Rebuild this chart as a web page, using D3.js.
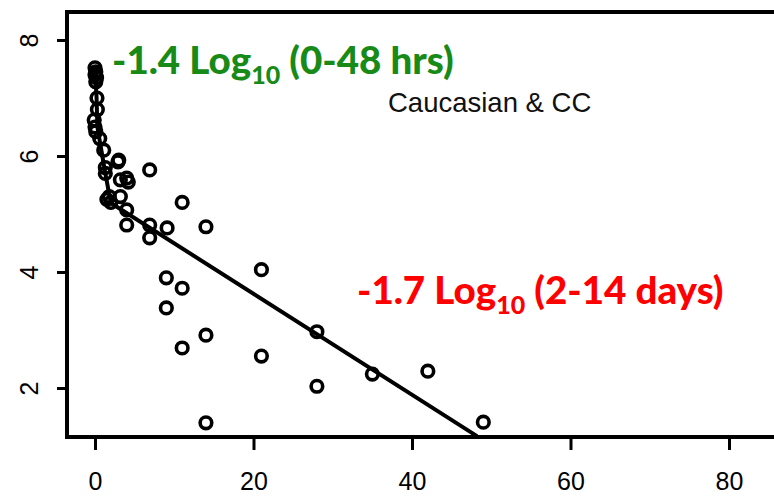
<!DOCTYPE html>
<html>
<head>
<meta charset="utf-8">
<script src="https://cdn.jsdelivr.net/npm/d3@7"></script>
<style>
  body { margin: 0; background: #fff; }
  svg { display: block; }
</style>
</head>
<body>
<div class="chart"></div>
<script>
// Observed viral load (log10) against days since start of treatment
const days = [
  0, 0.1, 0, 0.2, 0.1, 0.25, 0.3, -0.1, 0, 0.1, 0.6, 1.1, 1.3, 1.3,
  1.5, 1.8, 2, 2.9, 3, 3.2, 4.2, 3.2, 4, 4, 6.9, 11,
  4, 6.9, 9.1, 6.9, 14, 21, 9, 11, 9, 14, 11, 28, 21, 28, 14,
  35, 42, 49
];
const logLoad = [
  7.52, 7.45, 7.4, 7.35, 7.28, 7.0, 6.8, 6.62, 6.5, 6.42, 6.3, 6.1, 5.8, 5.7,
  5.25, 5.3, 5.2, 5.9, 5.93, 5.59, 5.55, 5.3, 5.07, 5.62, 5.76, 5.2,
  4.81, 4.81, 4.76, 4.59, 4.78, 4.04, 3.9, 3.72, 3.38, 2.91, 2.69, 2.97, 2.55, 2.03, 1.4,
  2.24, 2.29, 1.41
];

// Fitted biphasic decline
const fitDays = [0, 0.2, 0.3, 0.8, 1.3, 2, 48.2];
const fitLoad = [7.5, 7.0, 6.5, 6.1, 5.7, 5.19, 1.17];

const xTicks = [0, 20, 40, 60, 80];
const yTicks = [2, 4, 6, 8];

const W = 774, H = 498;
const frame = { left: 67, top: 12, right: 800, bottom: 437 };

const svg = d3
  .select(".chart")
  .append("svg")
  .attr("width", W)
  .attr("height", H);

const x = d3.scaleLinear().domain([0, 80]).range([95, 729]);
const y = d3.scaleLinear().domain([2, 8]).range([388, 40]);

// X axis
const xAxis = svg
  .append("g")
  .attr("transform", `translate(0,${frame.bottom})`)
  .call(d3.axisBottom(x).tickValues(xTicks).tickSize(13).tickPadding(22));
xAxis.select(".domain").remove();
xAxis.selectAll("line").attr("stroke", "#000").attr("stroke-width", 3);
xAxis
  .selectAll("text")
  .attr("fill", "#000")
  .style("font-family", "'Liberation Sans', Arial, sans-serif")
  .style("font-size", "25px");

// Y axis, labels rotated as in base R
const yAxis = svg
  .append("g")
  .attr("transform", `translate(${frame.left},0)`)
  .call(d3.axisLeft(y).tickValues(yTicks).tickFormat(d3.format("d")).tickSize(10));
yAxis.select(".domain").remove();
yAxis.selectAll("line").attr("stroke", "#000").attr("stroke-width", 3);
yAxis
  .selectAll("text")
  .attr("fill", "#000")
  .attr("x", null)
  .attr("text-anchor", "middle")
  .attr("transform", "translate(-38,0) rotate(-90)")
  .attr("dy", "0.35em")
  .style("font-family", "'Liberation Sans', Arial, sans-serif")
  .style("font-size", "25px");

// Plot frame
svg
  .append("rect")
  .attr("x", frame.left)
  .attr("y", frame.top)
  .attr("width", frame.right - frame.left)
  .attr("height", frame.bottom - frame.top)
  .attr("fill", "none")
  .attr("stroke", "#000")
  .attr("stroke-width", 4);

// Fit line
const fitPts = fitDays.map((d, i) => [d, fitLoad[i]]);
svg
  .append("path")
  .datum(fitPts)
  .attr("fill", "none")
  .attr("stroke", "#000")
  .attr("stroke-width", 4)
  .attr("stroke-linejoin", "round")
  .attr("d", d3.line().x((d) => x(d[0])).y((d) => y(d[1])));

// Observations
svg
  .append("g")
  .selectAll("circle")
  .data(days.map((d, i) => ({ day: d, load: logLoad[i] })))
  .join("circle")
  .attr("cx", (d) => x(d.day))
  .attr("cy", (d) => y(d.load))
  .attr("r", 5.8)
  .attr("fill", "none")
  .attr("stroke", "#000")
  .attr("stroke-width", 3.6);

// Annotations
function slope(xPos, yPos, color, lead, tail) {
  const t = svg
    .append("text")
    .attr("x", xPos)
    .attr("y", yPos)
    .attr("fill", color)
    .style("font-family", "Lato, 'Open Sans', sans-serif")
    .style("font-weight", "900")
    .style("font-size", "38.5px");
  t.append("tspan").text(lead);
  t.append("tspan").attr("dy", 10).style("font-size", "25px").text("10");
  t.append("tspan").attr("dy", -10).text(tail);
}
slope(112, 74, "#188a18", "-1.4 Log", " (0-48 hrs)");
slope(357, 304, "#ff0000", "-1.7 Log", " (2-14 days)");

svg
  .append("text")
  .attr("x", 388)
  .attr("y", 112)
  .attr("fill", "#111")
  .style("font-family", "'Liberation Sans', Arial, sans-serif")
  .style("font-size", "27.5px")
  .text("Caucasian & CC");
</script>
</body>
</html>
